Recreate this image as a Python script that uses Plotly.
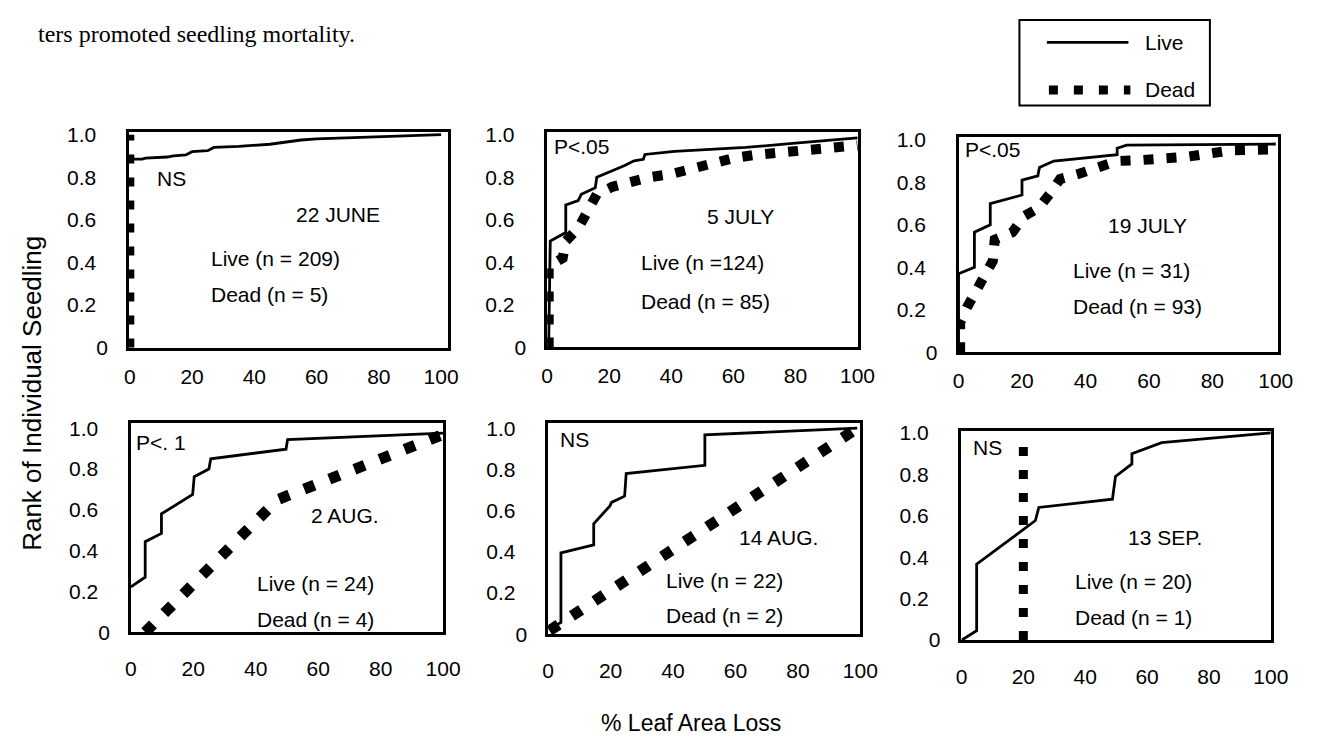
import plotly.graph_objects as go

W, H = 1323, 747
PAGE_OFFSET = 8  # default body margin of the html page

# ---------------- data ----------------
panel_dates = ["22 JUNE", "5 JULY", "19 JULY", "2 AUG.", "14 AUG.", "13 SEP."]
panel_tests = ["NS", "P<.05", "P<.05", "P<. 1", "NS", "NS"]
live_labels = ["Live (n = 209)", "Live (n =124)", "Live (n = 31)",
               "Live (n = 24)", "Live (n = 22)", "Live (n = 20)"]
dead_labels = ["Dead (n = 5)", "Dead (n = 85)", "Dead (n = 93)",
               "Dead (n = 4)", "Dead (n = 2)", "Dead (n = 1)"]

x_ticks = [0, 20, 40, 60, 80, 100]
y_ticks = [0, 0.2, 0.4, 0.6, 0.8, 1.0]
y_tick_text = ["0", "0.2\u00a0\u00a0", "0.4\u00a0\u00a0", "0.6\u00a0\u00a0", "0.8\u00a0\u00a0", "1.0\u00a0\u00a0"]

# 22 JUNE
live_jun22_x = [0, 4, 5, 12, 14, 18, 20, 25, 27, 35, 45, 50, 55, 60, 80, 100]
live_jun22_y = [0.885, 0.885, 0.89, 0.895, 0.90, 0.905, 0.92, 0.925, 0.94, 0.945, 0.955, 0.965, 0.975, 0.98, 0.99, 1.0]
dead_jun22_x = [0, 0]
dead_jun22_y = [0, 1.0]

# 5 JULY
live_jul5_x = [0.5, 1, 6, 6, 10, 11, 15.5, 16, 25, 28, 31, 31.5, 41, 64, 80, 100]
live_jul5_y = [0.02, 0.50, 0.54, 0.67, 0.69, 0.72, 0.75, 0.80, 0.855, 0.877, 0.884, 0.907, 0.922, 0.94, 0.96, 0.985]
dead_jul5_x = [0.5, 0.5, 5, 6, 10, 13, 16, 21, 27, 33, 40, 47, 54, 60, 67, 75, 82, 100]
dead_jul5_y = [0, 0.38, 0.42, 0.50, 0.56, 0.64, 0.72, 0.755, 0.78, 0.80, 0.815, 0.845, 0.87, 0.89, 0.905, 0.915, 0.92, 0.95]

# 19 JULY
live_jul19_x = [0, 0, 5, 5, 10, 10, 20, 20, 25, 25.5, 30, 50, 50, 53, 100]
live_jul19_y = [0, 0.37, 0.40, 0.565, 0.60, 0.70, 0.74, 0.81, 0.83, 0.87, 0.90, 0.93, 0.96, 0.975, 0.98]
dead_jul19_x = [0.5, 0.5, 2.6, 5.7, 10.8, 11.4, 17, 20.6, 25.3, 29, 32, 38, 44, 50, 58, 72, 86, 100]
dead_jul19_y = [0, 0.14, 0.21, 0.29, 0.43, 0.53, 0.565, 0.64, 0.68, 0.75, 0.815, 0.84, 0.87, 0.90, 0.905, 0.92, 0.95, 0.955]

# 2 AUG.
live_aug2_x = [0, 4.6, 4.6, 9.8, 9.8, 19.8, 20.3, 25, 25.6, 49.7, 50.2, 100]
live_aug2_y = [0.222, 0.27, 0.444, 0.484, 0.58, 0.675, 0.762, 0.80, 0.85, 0.897, 0.944, 0.976]
dead_aug2_x = [4.6, 47, 100]
dead_aug2_y = [0, 0.65, 0.97]

# 14 AUG.
live_aug14_x = [0.4, 4.1, 4.1, 14.6, 14.6, 19.8, 20.3, 24.5, 25, 50.2, 50.2, 99]
live_aug14_y = [0.025, 0.057, 0.395, 0.434, 0.536, 0.623, 0.64, 0.67, 0.78, 0.82, 0.968, 1.0]
dead_aug14_x = [0.4, 99]
dead_aug14_y = [0.017, 1.0]

# 13 SEP.
live_sep13_x = [0.1, 4.9, 4.9, 23.9, 25, 48.8, 49.8, 55.1, 55.1, 64.7, 100]
live_sep13_y = [0, 0.045, 0.366, 0.577, 0.64, 0.68, 0.79, 0.85, 0.90, 0.953, 1.0]
dead_sep13_x = [20, 20]
dead_sep13_y = [0, 1.0]

live_series = [(live_jun22_x, live_jun22_y), (live_jul5_x, live_jul5_y), (live_jul19_x, live_jul19_y),
               (live_aug2_x, live_aug2_y), (live_aug14_x, live_aug14_y), (live_sep13_x, live_sep13_y)]
dead_series = [(dead_jun22_x, dead_jun22_y), (dead_jul5_x, dead_jul5_y), (dead_jul19_x, dead_jul19_y),
               (dead_aug2_x, dead_aug2_y), (dead_aug14_x, dead_aug14_y), (dead_sep13_x, dead_sep13_y)]

# ---------------- layout geometry (screen pixels) ----------------
# frame: left, right, top, bottom
frames = [(125, 450, 125, 348), (551, 868, 125, 347), (970, 1295, 130, 352),
          (127, 445, 425, 640), (552, 870, 425, 642), (973, 1288, 433, 648)]
x_ranges = [[-0.3, 102.2], [0, 100.3], [0, 100.6], [0, 100], [0, 100], [0, 100]]
y_ranges = [[-0.005, 1.014], [0, 1.014], [0, 1.015], [0, 1.024], [0, 1.024], [0, 1.009]]
dead_width = [9, 10, 10, 11, 11, 9]
dead_dash = ["9px,14px", "10px,13px", "10px,13px", "11px,16px", "11px,16px", "9px,14px"]

# annotation positions (screen pixels)
test_pos = [(152, 173), (556, 140), (975, 143), (130, 445), (562, 442), (983, 450)]
date_pos = [(338, 210), (748, 212), (1162, 222), (345, 520), (787, 543), (1180, 543)]
live_pos = [(207, 255), (645, 260), (1085, 268), (253, 590), (670, 587), (1087, 588)]
dead_pos = [(207, 293), (645, 300), (1085, 305), (253, 627), (670, 623), (1087, 625)]

FONT = "Liberation Sans, Arial, sans-serif"
FS = 21


def pxx(px):
    return (px - PAGE_OFFSET) / W


def pxy(py):
    return 1 - (py - PAGE_OFFSET) / H


fig = go.Figure()
annotations = []
layout_axes = {}

for i in range(6):
    n = i + 1
    xa = "x" if n == 1 else f"x{n}"
    ya = "y" if n == 1 else f"y{n}"
    xkey = "xaxis" if n == 1 else f"xaxis{n}"
    ykey = "yaxis" if n == 1 else f"yaxis{n}"
    L, R, T, B = frames[i]
    row2 = i >= 3

    fig.add_trace(go.Scatter(x=dead_series[i][0], y=dead_series[i][1], mode="lines",
                             line=dict(color="black", width=dead_width[i], dash=dead_dash[i]),
                             xaxis=xa, yaxis=ya, showlegend=False, hoverinfo="skip"))
    fig.add_trace(go.Scatter(x=live_series[i][0], y=live_series[i][1], mode="lines",
                             line=dict(color="black", width=2.8),
                             xaxis=xa, yaxis=ya, showlegend=False, hoverinfo="skip"))

    layout_axes[xkey] = dict(domain=[pxx(L), pxx(R)], range=x_ranges[i], anchor=ya,
                             showline=True, mirror=True, linecolor="black", linewidth=2.6,
                             showgrid=False, zeroline=False, tickvals=x_ticks,
                             ticks="outside", ticklen=16 if row2 else 8,
                             tickcolor="rgba(0,0,0,0)",
                             tickfont=dict(family=FONT, size=FS, color="black"))
    layout_axes[ykey] = dict(domain=[pxy(B), pxy(T)], range=y_ranges[i], anchor=xa,
                             showline=True, mirror=True, linecolor="black", linewidth=2.6,
                             showgrid=False, zeroline=False, tickvals=y_ticks, ticktext=y_tick_text,
                             ticks="outside", ticklen=14, tickcolor="rgba(0,0,0,0)",
                             tickfont=dict(family=FONT, size=FS, color="black"))

    tx, ty = test_pos[i]
    annotations.append(dict(text=panel_tests[i], x=pxx(tx), y=pxy(ty), xref="paper", yref="paper",
                            xanchor="left", yanchor="middle", showarrow=False,
                            font=dict(family=FONT, size=FS, color="black")))
    dx, dy = date_pos[i]
    annotations.append(dict(text=panel_dates[i], x=pxx(dx), y=pxy(dy), xref="paper", yref="paper",
                            xanchor="center", yanchor="middle", showarrow=False,
                            font=dict(family=FONT, size=FS, color="black")))
    lx, ly = live_pos[i]
    annotations.append(dict(text=live_labels[i], x=pxx(lx), y=pxy(ly), xref="paper", yref="paper",
                            xanchor="left", yanchor="middle", showarrow=False,
                            font=dict(family=FONT, size=FS, color="black")))
    kx, ky = dead_pos[i]
    annotations.append(dict(text=dead_labels[i], x=pxx(kx), y=pxy(ky), xref="paper", yref="paper",
                            xanchor="left", yanchor="middle", showarrow=False,
                            font=dict(family=FONT, size=FS, color="black")))

# axis titles
annotations.append(dict(text="Rank of Individual Seedling", x=pxx(26), y=pxy(394), xref="paper", yref="paper",
                        textangle=-90, showarrow=False, xanchor="center", yanchor="middle",
                        font=dict(family=FONT, size=26, color="black")))
annotations.append(dict(text="% Leaf Area Loss", x=pxx(698), y=pxy(733), xref="paper", yref="paper",
                        showarrow=False, xanchor="center", yanchor="middle",
                        font=dict(family=FONT, size=23, color="black")))
# caption fragment at the very top of the page
annotations.append(dict(text="ters promoted seedling mortality.", x=pxx(30), y=pxy(24), xref="paper", yref="paper",
                        showarrow=False, xanchor="left", yanchor="middle",
                        font=dict(family="Liberation Serif, Times New Roman, serif", size=24, color="black")))

# legend (drawn manually)
shapes = [
    dict(type="rect", xref="paper", yref="paper", x0=pxx(1032), x1=pxx(1226), y0=pxy(98), y1=pxy(10),
         line=dict(color="black", width=2), fillcolor="white"),
    dict(type="line", xref="paper", yref="paper", x0=pxx(1060), x1=pxx(1143), y0=pxy(33), y1=pxy(33),
         line=dict(color="black", width=2.8)),
    dict(type="line", xref="paper", yref="paper", x0=pxx(1062), x1=pxx(1145), y0=pxy(82), y1=pxy(82),
         line=dict(color="black", width=9, dash="9px,16px")),
]
annotations.append(dict(text="Live", x=pxx(1158), y=pxy(33), xref="paper", yref="paper", showarrow=False,
                        xanchor="left", yanchor="middle", font=dict(family=FONT, size=FS, color="black")))
annotations.append(dict(text="Dead", x=pxx(1158), y=pxy(82), xref="paper", yref="paper", showarrow=False,
                        xanchor="left", yanchor="middle", font=dict(family=FONT, size=FS, color="black")))

fig.update_layout(width=W, height=H, margin=dict(l=0, r=0, t=0, b=0),
                  paper_bgcolor="white", plot_bgcolor="white",
                  annotations=annotations, shapes=shapes, showlegend=False, **layout_axes)

fig.write_html("out.html")
